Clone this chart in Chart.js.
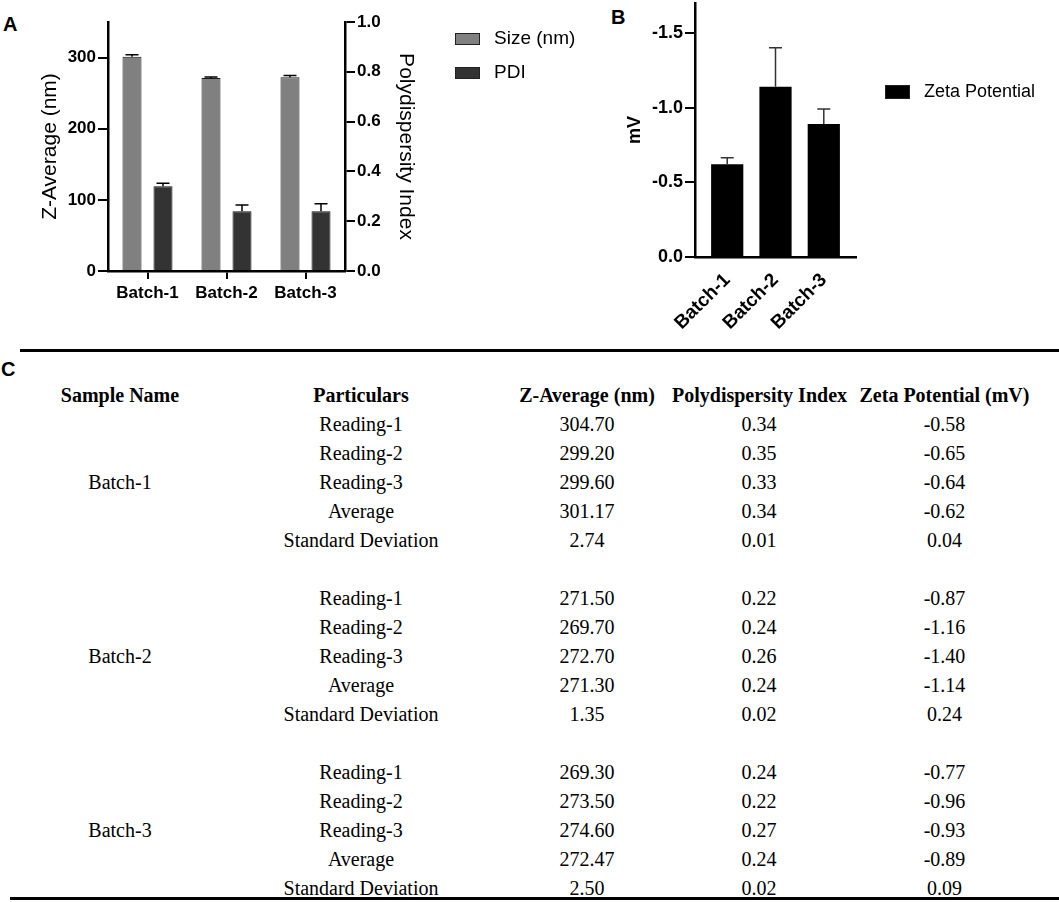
<!DOCTYPE html>
<html>
<head>
<meta charset="utf-8">
<script src="https://cdn.jsdelivr.net/npm/chart.js@4.4.0/dist/chart.umd.min.js"></script>
<style>
  body { margin: 0; background: #fff; }
  #page { position: relative; width: 1059px; height: 902px; overflow: hidden; font-family: "Liberation Sans", Arial, sans-serif; }
  .panel { position: absolute; font-weight: bold; font-size: 20px; line-height: 20px; }
  #wrapA { position: absolute; left: 0; top: 0; width: 600px; height: 340px; }
  #wrapB { position: absolute; left: 560px; top: 0; width: 499px; height: 345px; }
  .rule { position: absolute; background: #000; }
  #tbl { position: absolute; left: 0; top: 381px; width: 1059px; border-collapse: collapse; table-layout: fixed;
         font-family: "Liberation Serif", "Times New Roman", serif; font-size: 20px; color: #000; }
  #tbl td, #tbl th { height: 29px; padding: 0; text-align: center; white-space: nowrap; vertical-align: middle; }
  #tbl tr { height: 29px; }
  #tbl span { position: relative; }
</style>
</head>
<body>
<div id="page">
  <div class="panel" style="left:3px; top:14px;">A</div>
  <div class="panel" style="left:611px; top:7px;">B</div>
  <div class="panel" style="left:1px; top:359px;">C</div>
  <div id="wrapA"><canvas id="chartA"></canvas></div>
  <div id="wrapB"><canvas id="chartB"></canvas></div>
  <div class="rule" style="left:20px; top:349px; width:1039px; height:3px;"></div>
  <table id="tbl">
    <colgroup><col style="width:240px"><col style="width:242px"><col style="width:190px"><col style="width:174px"><col style="width:213px"></colgroup>
    <thead><tr id="head"></tr></thead>
    <tbody id="body"></tbody>
  </table>
  <div class="rule" style="left:10px; top:897px; width:1049px; height:3px;"></div>
</div>

<script>
// chart values
const batches = ["Batch-1", "Batch-2", "Batch-3"];
const sizeAvg = [301.17, 271.30, 272.47];
const sizeSD = [2.74, 1.35, 2.50];
const pdiAvg = [0.34, 0.24, 0.24];
const pdiSD = [0.012, 0.025, 0.03];
const zetaAvg = [-0.62, -1.14, -0.89];
const zetaSD = [0.045, 0.26, 0.10];
const sizeTicks = [0, 100, 200, 300];
const pdiTicks = [0, 0.2, 0.4, 0.6, 0.8, 1.0];
const zetaTicks = [0, -0.5, -1.0, -1.5];

// table values
const headers = ["Sample Name", "Particulars", "Z-Average (nm)", "Polydispersity Index", "Zeta Potential (mV)"];
const particulars = ["Reading-1", "Reading-2", "Reading-3", "Average", "Standard Deviation"];
const zAverageRows = [[304.70, 299.20, 299.60, 301.17, 2.74], [271.50, 269.70, 272.70, 271.30, 1.35], [269.30, 273.50, 274.60, 272.47, 2.50]];
const pdiRows = [[0.34, 0.35, 0.33, 0.34, 0.01], [0.22, 0.24, 0.26, 0.24, 0.02], [0.24, 0.22, 0.27, 0.24, 0.02]];
const zetaRows = [[-0.58, -0.65, -0.64, -0.62, 0.04], [-0.87, -1.16, -1.40, -1.14, 0.24], [-0.77, -0.96, -0.93, -0.89, 0.09]];
// small horizontal nudges of each column's text
const colShift = [0, 0, 10, 0, -8];

Chart.defaults.font.family = '"Liberation Sans", Arial, sans-serif';
Chart.defaults.color = '#000';

// error bars, upward only (away from zero)
const errorBars = {
  id: 'errorBars',
  afterDatasetsDraw(chart, args, opts) {
    const ctx = chart.ctx;
    chart.data.datasets.forEach((ds, i) => {
      if (!ds.errors) return;
      const meta = chart.getDatasetMeta(i);
      const scale = chart.scales[meta.yAxisID];
      meta.data.forEach((bar, j) => {
        const raw = ds.data[j];
        const v = typeof raw === 'object' ? raw.y : raw;
        const top = scale.getPixelForValue(v + Math.sign(v) * ds.errors[j]);
        ctx.save();
        ctx.strokeStyle = opts.color || '#000';
        ctx.lineWidth = 1.5;
        ctx.beginPath();
        ctx.moveTo(bar.x, bar.y);
        ctx.lineTo(bar.x, top);
        ctx.moveTo(bar.x - 6.5, top);
        ctx.lineTo(bar.x + 6.5, top);
        ctx.stroke();
        ctx.restore();
      });
    });
  }
};

// simple legend placed where the figure has it
const sideLegend = {
  id: 'sideLegend',
  afterDraw(chart, args, opts) {
    const ctx = chart.ctx;
    chart.data.datasets.forEach((ds, i) => {
      const y = opts.y + i * opts.gap;
      ctx.save();
      ctx.fillStyle = ds.backgroundColor;
      ctx.fillRect(opts.x, y - opts.boxH / 2, opts.boxW, opts.boxH);
      ctx.strokeStyle = '#222';
      ctx.lineWidth = 1;
      ctx.strokeRect(opts.x + 0.5, y - opts.boxH / 2 + 0.5, opts.boxW - 1, opts.boxH - 1);
      ctx.fillStyle = '#000';
      ctx.font = opts.font;
      ctx.textBaseline = 'middle';
      ctx.fillText(ds.label, opts.x + opts.boxW + 14, y);
      ctx.restore();
    });
  }
};

const axisLine = { color: '#000', width: 2.5 };
const tickMarks = { drawOnChartArea: false, drawTicks: true, tickLength: 10, color: '#000', lineWidth: 2 };

new Chart(document.getElementById('chartA'), {
  type: 'bar',
  data: {
    labels: batches,
    datasets: [
      { label: 'Size (nm)', data: sizeAvg, errors: sizeSD, yAxisID: 'y', backgroundColor: '#808080',
        borderColor: '#1a1a1a', borderWidth: 1, barPercentage: 0.613, categoryPercentage: 0.785 },
      { label: 'PDI', data: pdiAvg, errors: pdiSD, yAxisID: 'y1', backgroundColor: '#333333',
        borderColor: '#111', borderWidth: 1, barPercentage: 0.613, categoryPercentage: 0.785 }
    ]
  },
  options: {
    responsive: true,
    maintainAspectRatio: false,
    animation: false,
    layout: { padding: { left: 0, right: 175, top: 22, bottom: 29 } },
    plugins: {
      legend: { display: false },
      tooltip: { enabled: false },
      errorBars: { color: '#000' },
      sideLegend: { x: 455, y: 39, gap: 34, boxW: 25, boxH: 12, font: '19px "Liberation Sans", Arial, sans-serif' }
    },
    scales: {
      x: {
        grid: { display: true, offset: false, drawOnChartArea: false, tickLength: 8, color: '#000', lineWidth: 2 },
        border: axisLine,
        ticks: { font: { size: 17, weight: 'bold' }, padding: 4 },
        afterFit: s => { s.height = 40; s.paddingLeft = 0; s.paddingRight = 0; }
      },
      y: {
        position: 'left', min: 0, max: 350,
        afterBuildTicks: s => { s.ticks = sizeTicks.map(v => ({ value: v })); },
        grid: tickMarks,
        border: axisLine,
        ticks: { font: { size: 17, weight: 'bold' }, padding: 2 },
        title: { display: true, text: 'Z-Average (nm)', font: { size: 21 }, padding: { top: 38, bottom: 0 } },
        afterFit: s => { s.width = 108; s.paddingTop = 0; s.paddingBottom = 0; }
      },
      y1: {
        position: 'right', min: 0, max: 1,
        afterBuildTicks: s => { s.ticks = pdiTicks.map(v => ({ value: v })); },
        grid: tickMarks,
        border: axisLine,
        ticks: { font: { size: 17, weight: 'bold' }, padding: 2, callback: v => v.toFixed(1) },
        title: { display: true, text: 'Polydispersity Index', font: { size: 21 }, padding: { top: 7, bottom: 0 } },
        afterFit: s => { s.width = 80; s.paddingTop = 0; s.paddingBottom = 0; }
      }
    }
  },
  plugins: [errorBars, sideLegend]
});

new Chart(document.getElementById('chartB'), {
  type: 'bar',
  data: {
    datasets: [
      { label: 'Zeta Potential', data: zetaAvg.map((v, i) => ({ x: i, y: v })), errors: zetaSD,
        backgroundColor: '#000000', borderWidth: 0, barPercentage: 0.667, categoryPercentage: 1.0 }
    ]
  },
  options: {
    responsive: true,
    maintainAspectRatio: false,
    animation: false,
    layout: { padding: { left: 0, right: 203, top: 3, bottom: 8 } },
    plugins: {
      legend: { display: false },
      tooltip: { enabled: false },
      errorBars: { color: '#333' },
      sideLegend: { x: 325, y: 92, gap: 34, boxW: 25, boxH: 14, font: '18px "Liberation Sans", Arial, sans-serif' }
    },
    scales: {
      x: {
        type: 'linear', min: -0.667, max: 2.667, offset: false,
        afterBuildTicks: s => { s.ticks = batches.map((b, i) => ({ value: i })); },
        grid: { display: false, offset: false },
        border: axisLine,
        ticks: { font: { size: 19, weight: 'bold' }, padding: 4, minRotation: 45, maxRotation: 45, autoSkip: false,
                 callback: v => batches[v] },
        afterFit: s => { s.height = 80; s.paddingLeft = 0; s.paddingRight = 0; }
      },
      y: {
        reverse: true, min: -1.7, max: 0,
        afterBuildTicks: s => { s.ticks = zetaTicks.map(v => ({ value: v })); },
        grid: tickMarks,
        border: axisLine,
        ticks: { font: { size: 18, weight: 'bold' }, padding: 2, callback: v => v.toFixed(1) },
        title: { display: true, text: 'mV', font: { size: 18, weight: 'bold' }, padding: { top: 64, bottom: 0 } },
        afterFit: s => { s.width = 135; s.paddingTop = 0; s.paddingBottom = 0; }
      }
    }
  },
  plugins: [errorBars, sideLegend]
});

// table
function cell(tag, text, col) {
  const c = document.createElement(tag);
  const span = document.createElement('span');
  span.textContent = text;
  span.style.left = colShift[col] + 'px';
  c.appendChild(span);
  return c;
}
const head = document.getElementById('head');
headers.forEach((h, ci) => head.appendChild(cell('th', h, ci)));
const body = document.getElementById('body');
batches.forEach((b, bi) => {
  if (bi > 0) {
    const gap = document.createElement('tr');
    gap.innerHTML = '<td colspan="5"></td>';
    body.appendChild(gap);
  }
  particulars.forEach((p, pi) => {
    const tr = document.createElement('tr');
    if (pi === 0) {
      const td = cell('td', b, 0);
      td.rowSpan = particulars.length;
      tr.appendChild(td);
    }
    [p, zAverageRows[bi][pi].toFixed(2), pdiRows[bi][pi].toFixed(2), zetaRows[bi][pi].toFixed(2)]
      .forEach((t, k) => tr.appendChild(cell('td', t, k + 1)));
    body.appendChild(tr);
  });
});
</script>
</body>
</html>
